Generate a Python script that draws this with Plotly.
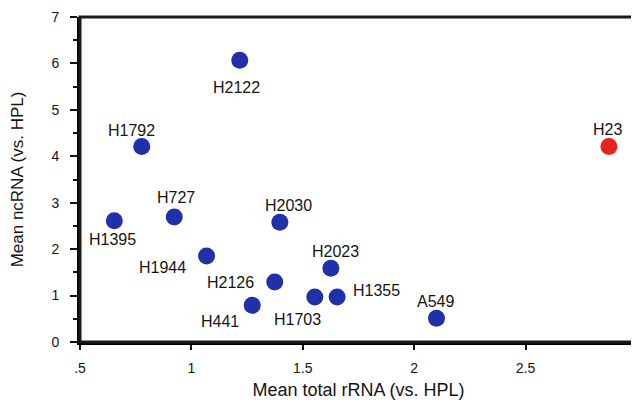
import plotly.graph_objects as go

cell_lines = ["H2122", "H1792", "H23", "H1395", "H727", "H2030", "H1944",
              "H2126", "H441", "H1703", "H2023", "H1355", "A549"]
total_rrna = [1.217, 0.777, 2.874, 0.654, 0.923, 1.397, 1.068,
              1.374, 1.273, 1.554, 1.626, 1.654, 2.100]
ncrna = [6.07, 4.21, 4.21, 2.61, 2.69, 2.58, 1.85,
         1.29, 0.79, 0.97, 1.59, 0.97, 0.51]
highlight = ["H23"]

x_tickvals = [0.5, 1, 1.5, 2, 2.5, 3]
x_ticktext = [".5", "1", "1.5", "2", "2.5", "3"]
y_tickvals = [0, 1, 2, 3, 4, 5, 6, 7]

# label pixel offsets (style only): (dx right, dy up)
label_offsets = {
    "H2122": (-3, -27), "H1792": (-10, 16), "H23": (-1, 17),
    "H1395": (-2, -19), "H727": (2, 20), "H2030": (9, 17),
    "H1944": (-44, -11), "H2126": (-44, 0), "H441": (-32, -16),
    "H1703": (-17, -23), "H2023": (5, 17), "H1355": (39, 6),
    "A549": (-1, 17),
}

BLUE = "#2030a8"
RED = "#e8231d"
INK = "#141414"
FONT = "Liberation Sans, Arial, sans-serif"

colors = [RED if c in highlight else BLUE for c in cell_lines]

fig = go.Figure()
fig.add_trace(go.Scatter(
    x=total_rrna, y=ncrna, mode="markers",
    marker=dict(size=17, color=colors, line=dict(width=0)),
    showlegend=False, hoverinfo="text", text=cell_lines, cliponaxis=False,
))

for name, xv, yv in zip(cell_lines, total_rrna, ncrna):
    dx, dy = label_offsets[name]
    fig.add_annotation(x=xv, y=yv, text=name, showarrow=False,
                       xshift=dx, yshift=dy,
                       font=dict(family=FONT, size=16, color=INK))

# plot frame
fig.add_shape(type="rect", xref="paper", yref="paper", x0=0, y0=0, x1=1, y1=1,
              line=dict(color="#1a1a1a", width=3), layer="above")

fig.update_layout(
    width=631, height=392,
    margin=dict(l=72, r=2, t=9, b=58),
    paper_bgcolor="white", plot_bgcolor="white",
    font=dict(family=FONT, color=INK),
)
fig.update_xaxes(
    range=[0.5, 3], tickvals=x_tickvals, ticktext=x_ticktext,
    showgrid=False, zeroline=False, showline=True, linecolor="black",
    linewidth=3, ticks="outside", ticklen=5, tickwidth=2,
    tickcolor=INK, tickfont=dict(size=14, family=FONT, color=INK),
    ticklabelstandoff=6,
    title=dict(text="Mean total rRNA (vs. HPL)", font=dict(size=18, family=FONT, color=INK),
               standoff=14),
    automargin=False,
)
fig.update_yaxes(
    range=[0, 7], tickvals=y_tickvals,
    showgrid=False, zeroline=False, showline=True, linecolor="black",
    linewidth=3, ticks="outside", ticklen=7, tickwidth=2,
    tickcolor=INK, tickfont=dict(size=14, family=FONT, color=INK),
    ticklabelstandoff=8,
    minor=dict(dtick=0.5, tick0=0, ticks="outside", ticklen=4, tickwidth=2, tickcolor=INK),
    title=dict(text="Mean ncRNA (vs. HPL)", font=dict(size=17, family=FONT, color=INK),
               standoff=26),
    automargin=False,
)

fig.write_html("out.html")
